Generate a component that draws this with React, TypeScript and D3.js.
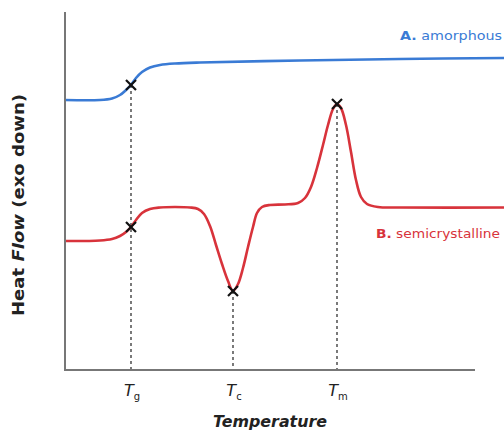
import React from "react";
import * as d3 from "d3";

// Temperature (arbitrary units) and heat flow (arbitrary units, exo down)
const amorphousT = [0, 35, 47, 55, 61, 66, 71, 77, 85, 95, 110, 135, 235, 335, 439];
const amorphousHF = [270, 270, 271.5, 275, 280, 285, 292, 298, 302.5, 305, 306.5, 307.5, 309.5, 311, 312];

const semiT = [0, 35, 47, 55, 61, 66, 71, 77, 85, 95, 110, 125, 133, 139, 145, 151, 157, 163, 168, 173, 178, 183, 188, 192, 197, 205, 220, 233, 240, 246, 252, 258, 263, 268, 272, 276, 281, 286, 291, 296, 302, 313, 335, 439];
const semiHF = [129, 129.5, 131, 134, 138, 143, 150, 157, 161, 162.5, 163, 162.5, 161, 156, 144, 125, 106, 89, 79, 86, 102, 123, 143, 157, 163, 165, 165.5, 167, 172, 183, 202, 225, 245, 261, 266, 262, 245, 218, 190, 173, 166, 163, 162.5, 162.5];

// Transition markers (Tg on both curves, Tc, Tm)
const markerT = [66, 66, 168, 272];
const markerHF = [285, 143, 79, 266];
const dropT = [66, 168, 272];
const dropHF = [285, 79, 266];
const tickT = [66, 168, 272];
const tickSub = ["g", "c", "m"];

const W = 504;
const H = 432;

export default function App() {
  const x = d3.scaleLinear().domain([0, 410]).range([65, 475]);
  const y = d3.scaleLinear().domain([0, 358]).range([370, 12]);
  const line = d3
    .line<[number, number]>()
    .x((d) => x(d[0]))
    .y((d) => y(d[1]))
    .curve(d3.curveCatmullRom.alpha(0.5));
  const blue = line(amorphousT.map((t, i) => [t, amorphousHF[i]]) as [number, number][]) || "";
  const red = line(semiT.map((t, i) => [t, semiHF[i]]) as [number, number][]) || "";
  const font = "DejaVu Sans, Verdana, sans-serif";
  const s = 5;
  return (
    <svg
      width={W}
      height={H}
      style={{ position: "fixed", left: 0, top: 0, background: "#fff" }}
      fontFamily={font}
    >
      {dropT.map((t, i) => (
        <line
          key={"d" + i}
          x1={x(t)}
          x2={x(t)}
          y1={y(dropHF[i])}
          y2={y(0)}
          stroke="#333"
          strokeWidth={1.3}
          strokeDasharray="3,3"
        />
      ))}
      <path d={blue} fill="none" stroke="#3a7bd5" strokeWidth={2.6} />
      <path d={red} fill="none" stroke="#d8333b" strokeWidth={2.6} />
      {markerT.map((t, i) => (
        <g key={"m" + i} stroke="#111" strokeWidth={2.2}>
          <line x1={x(t) - s} x2={x(t) + s} y1={y(markerHF[i]) - s} y2={y(markerHF[i]) + s} />
          <line x1={x(t) - s} x2={x(t) + s} y1={y(markerHF[i]) + s} y2={y(markerHF[i]) - s} />
        </g>
      ))}
      <line x1={x(0)} x2={x(0)} y1={y(358)} y2={y(0) + 1} stroke="#777" strokeWidth={2} />
      <line x1={x(0) - 1} x2={x(410)} y1={y(0)} y2={y(0)} stroke="#777" strokeWidth={2} />
      {tickT.map((t, i) => (
        <text key={"t" + i} x={x(t) + 1} y={396} textAnchor="middle" fontSize={16} fill="#222">
          <tspan fontStyle="italic">T</tspan>
          <tspan fontSize={10} dy={4}>{tickSub[i]}</tspan>
        </text>
      ))}
      <text x={270} y={427} textAnchor="middle" fontSize={15} fontWeight="bold" fontStyle="italic" fill="#222" textLength={114} lengthAdjust="spacingAndGlyphs">
        Temperature
      </text>
      <text
        transform={`translate(24,205) rotate(-90)`}
        textAnchor="middle"
        fontSize={15}
        fontWeight="bold"
        fill="#222"
        textLength={222}
        lengthAdjust="spacingAndGlyphs"
      >
        Heat <tspan fontStyle="italic">Flow</tspan> (exo down)
      </text>
      <text x={502} y={40} textAnchor="end" fontSize={13} fill="#3a7bd5" textLength={102} lengthAdjust="spacingAndGlyphs">
        <tspan fontWeight="bold">A.</tspan> amorphous
      </text>
      <text x={500} y={238} textAnchor="end" fontSize={13} fill="#d8333b" textLength={124} lengthAdjust="spacingAndGlyphs">
        <tspan fontWeight="bold">B.</tspan> semicrystalline
      </text>
    </svg>
  );
}
